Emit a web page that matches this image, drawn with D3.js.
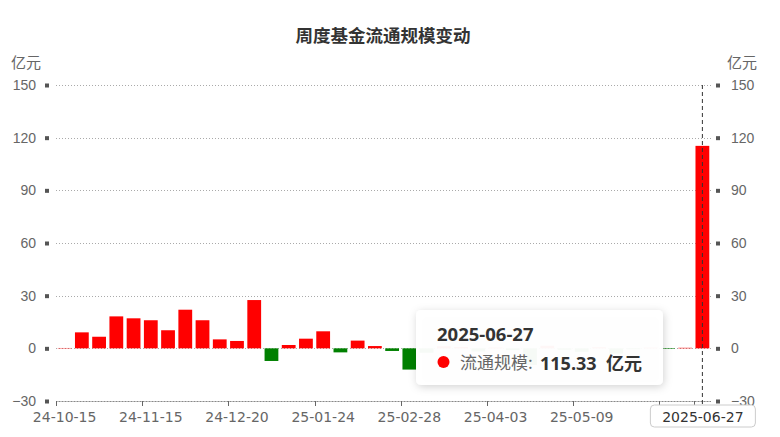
<!DOCTYPE html>
<html>
<head>
<meta charset="utf-8">
<script src="https://cdn.jsdelivr.net/npm/d3@7/dist/d3.min.js"></script>
<style>
  html, body { margin: 0; padding: 0; background: #fff; }
  svg { display: block; }
</style>
</head>
<body>
<div id="chart"></div>
<script>
// ---- data ----
const categories = [
  "24-10-15","24-10-18","24-10-25","24-11-01","24-11-08","24-11-15","24-11-22","24-11-29",
  "24-12-06","24-12-13","24-12-20","24-12-27","25-01-03","25-01-10","25-01-17","25-01-24",
  "25-01-27","25-02-07","25-02-14","25-02-21","25-02-28","25-03-07","25-03-14","25-03-21",
  "25-03-28","25-04-03","25-04-11","25-04-18","25-04-25","25-04-30","25-05-09","25-05-16",
  "25-05-23","25-05-30","25-06-06","25-06-13","25-06-20","25-06-27"
];
const flowValues = [
  0.2, 9.1, 6.6, 18.2, 17.1, 16.0, 10.3, 22.0,
  16.0, 5.1, 4.2, 27.5, -7.2, 1.9, 5.5, 9.7,
  -2.3, 4.4, 1.3, -1.5, -12.1, -2.5, 1.2, 0.8,
  -1.8, 0.5, -1.0, -9.5, 1.5, -0.8, -2.0, 0.6,
  -3.0, -0.5, 0.4, -0.3, 0.3, 115.33
];
const yTicks = [-30, 0, 30, 60, 90, 120, 150];
const labelIndices = [0, 5, 10, 15, 20, 25, 30];
const tickIndices = [0, 5, 10, 15, 20, 25, 30, 35, 37];
const titleText = "周度基金流通规模变动";
const unitText = "亿元";
const seriesName = "流通规模";
const hoverIndex = 37;
const hoverFullDate = "2025-06-27";

(function () {
// ---- layout ----
const W = 780, H = 437;
const pL = 56, pR = 711, pT = 85, pB = 401;

const svg = d3.select("#chart").append("svg").attr("width", W).attr("height", H);
const defs = svg.append("defs");
const f = defs.append("filter").attr("id", "shadow").attr("x", "-20%").attr("y", "-30%").attr("width", "140%").attr("height", "160%");
f.append("feDropShadow").attr("dx", 1).attr("dy", 2).attr("stdDeviation", 4).attr("flood-color", "#000").attr("flood-opacity", 0.18);

const x = d3.scaleBand().domain(categories).range([pL, pR]).paddingInner(0.2).paddingOuter(0.1);
const y = d3.scaleLinear().domain([-30, 150]).range([pB, pT]);
const step = x.step();
const boundary = i => x(categories[i]) - step * x.paddingInner() / 2;

// title
svg.append("text").attr("x", 383).attr("y", 42).attr("text-anchor", "middle")
  .attr("font-family", "'Noto Sans CJK SC', sans-serif").attr("font-weight", "bold")
  .attr("font-size", 17.5).attr("fill", "#333").text(titleText);

// unit labels
svg.append("text").attr("x", 11).attr("y", 68).attr("font-family", "'Noto Sans CJK SC', sans-serif")
  .attr("font-size", 15).attr("fill", "#666").text(unitText);
svg.append("text").attr("x", 757).attr("y", 68).attr("text-anchor", "end").attr("font-family", "'Noto Sans CJK SC', sans-serif")
  .attr("font-size", 15).attr("fill", "#666").text(unitText);

// gridlines
svg.append("g").selectAll("line").data(yTicks).join("line")
  .attr("x1", pL).attr("x2", pR).attr("y1", d => Math.round(y(d)) + 0.5).attr("y2", d => Math.round(y(d)) + 0.5)
  .attr("stroke", "#aaa").attr("stroke-width", 1).attr("stroke-dasharray", "1,2");

// left y axis
const gl = svg.append("g").attr("transform", `translate(${pL - 9},0)`)
  .call(d3.axisLeft(y).tickValues(yTicks).tickSize(0).tickPadding(11));
gl.select(".domain").remove();
gl.selectAll("text").attr("font-family", "'Liberation Sans', Arial, sans-serif").attr("font-size", 14).attr("fill", "#666");
gl.selectAll(".tick").append("rect").attr("x", -2).attr("y", -2).attr("width", 4).attr("height", 4).attr("fill", "#555");

// right y axis
const gr = svg.append("g").attr("transform", `translate(${pR + 7},0)`)
  .call(d3.axisRight(y).tickValues(yTicks).tickSize(0).tickPadding(13));
gr.select(".domain").remove();
gr.selectAll("text").attr("font-family", "'Liberation Sans', Arial, sans-serif").attr("font-size", 14).attr("fill", "#666");
gr.selectAll(".tick").append("rect").attr("x", -2).attr("y", -2).attr("width", 4).attr("height", 4).attr("fill", "#555");

// x axis line
svg.append("line").attr("x1", pL).attr("x2", pR).attr("y1", pB + 0.5).attr("y2", pB + 0.5)
  .attr("stroke", "#bbb").attr("stroke-width", 1);
svg.append("line").attr("x1", pL).attr("x2", pR).attr("y1", pB + 0.5).attr("y2", pB + 0.5)
  .attr("stroke", "#888").attr("stroke-width", 1).attr("stroke-dasharray", "1,2");
svg.append("g").selectAll("line").data(tickIndices).join("line")
  .attr("x1", d => Math.round(boundary(d)) + 0.5).attr("x2", d => Math.round(boundary(d)) + 0.5)
  .attr("y1", pB).attr("y2", pB + 5).attr("stroke", "#666").attr("stroke-width", 1);

const gx = svg.append("g").attr("transform", `translate(0,${pB})`)
  .call(d3.axisBottom(x).tickValues(labelIndices.map(i => categories[i])).tickSize(0).tickPadding(9));
gx.select(".domain").remove();
gx.selectAll("text").attr("font-family", "'DejaVu Sans', sans-serif").attr("font-size", 14).attr("fill", "#666")
  .attr("dy", "0.85em");

// bars
svg.append("g").selectAll("rect").data(flowValues).join("rect")
  .attr("x", (d, i) => x(categories[i]))
  .attr("width", x.bandwidth())
  .attr("y", d => y(Math.max(0, d)))
  .attr("height", d => Math.abs(y(d) - y(0)))
  .attr("fill", d => d >= 0 ? "#ff0000" : "#008000");

// crosshair
const cx = x(categories[hoverIndex]) + x.bandwidth() / 2;
svg.append("line").attr("x1", cx).attr("x2", cx).attr("y1", pT).attr("y2", pB + 4)
  .attr("stroke", "#333").attr("stroke-width", 1).attr("stroke-dasharray", "4,3");

// axis pointer label
const apg = svg.append("g");
apg.append("rect").attr("x", cx - 52).attr("y", 405).attr("width", 105).attr("height", 22).attr("rx", 4)
  .attr("fill", "#fff").attr("stroke", "#ccc");
apg.append("text").attr("x", cx + 0.5).attr("y", 421.5).attr("text-anchor", "middle")
  .attr("font-family", "'DejaVu Sans', sans-serif").attr("font-size", 14).attr("fill", "#333").text(hoverFullDate);

// tooltip
const tg = svg.append("g");
tg.append("rect").attr("x", 416).attr("y", 310).attr("width", 247).attr("height", 75).attr("rx", 5)
  .attr("fill", "#fff").attr("fill-opacity", 0.96).attr("filter", "url(#shadow)");
tg.append("text").attr("x", 437).attr("y", 341).attr("font-family", "'Open Sans', sans-serif")
  .attr("font-weight", "bold").attr("font-size", 18.5).attr("fill", "#333").text(hoverFullDate);
tg.append("circle").attr("cx", 443.5).attr("cy", 362).attr("r", 6).attr("fill", "#ff0000");
tg.append("text").attr("x", 460).attr("y", 369).attr("font-family", "'Noto Sans CJK SC', sans-serif")
  .attr("font-size", 17).attr("fill", "#666").text(seriesName + ":");
tg.append("text").attr("x", 540).attr("y", 370).attr("font-family", "'Open Sans', 'Noto Sans CJK SC', sans-serif")
  .attr("font-weight", "bold").attr("font-size", 18).attr("fill", "#333")
  .text(d3.format(".2f")(flowValues[hoverIndex]) + "\u00a0\u00a0" + unitText);
})();
</script>
</body>
</html>
